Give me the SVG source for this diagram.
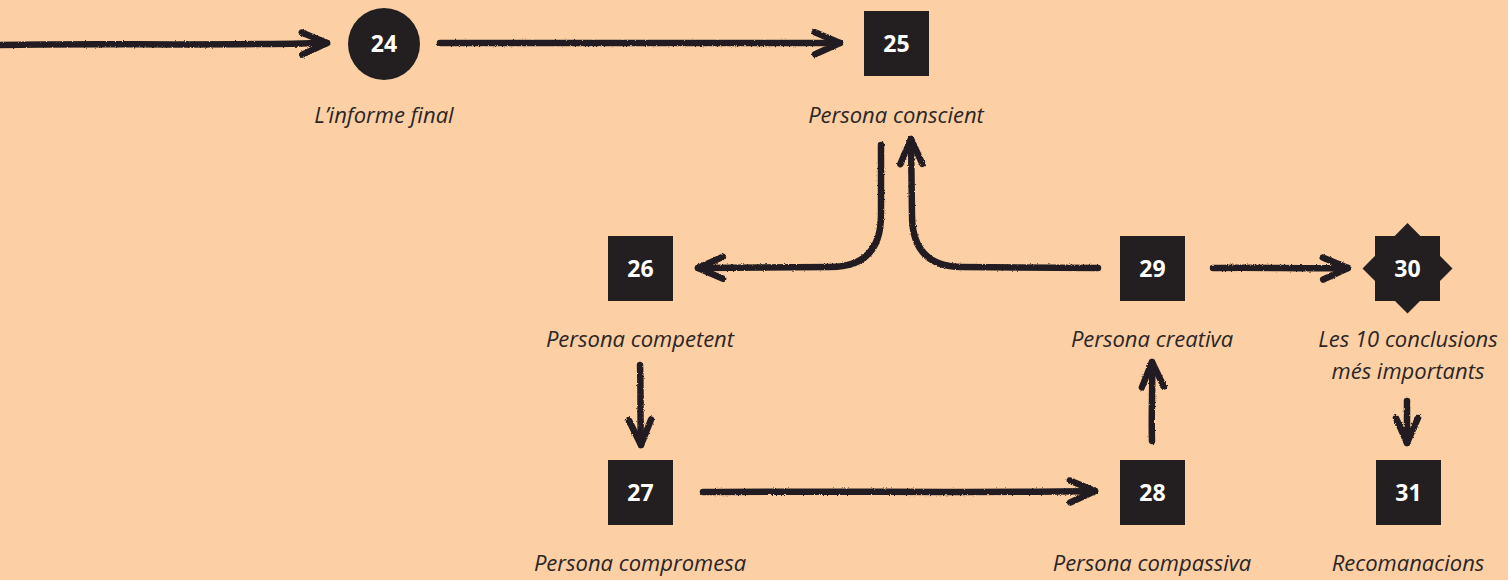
<svg xmlns="http://www.w3.org/2000/svg" width="1508" height="580" viewBox="0 0 1508 580">
<defs>
<style>
.node{fill:#231f20}
.num{fill:#ffffff;font-family:"Open Sans","Liberation Sans",sans-serif;font-weight:700;font-size:23px;text-anchor:middle}
.lbl{fill:#2a2627;font-family:"Open Sans","Liberation Sans",sans-serif;font-style:italic;font-size:22px;text-anchor:middle}
.con{fill:none;stroke:#231f20;stroke-width:6.5;stroke-linecap:round;stroke-linejoin:round}
</style>
<marker id="ah" viewBox="-30 -15 34 30" refX="0" refY="0" markerWidth="34" markerHeight="30" markerUnits="userSpaceOnUse" orient="auto">
<path d="M-25,-11 L0,0 L-25,11" fill="none" stroke="#231f20" stroke-width="6.5" stroke-linecap="round" stroke-linejoin="round"/>
</marker>
<filter id="chalk" x="-5%" y="-20%" width="110%" height="140%">
<feTurbulence type="fractalNoise" baseFrequency="0.9" numOctaves="2" seed="3" result="n"/>
<feDisplacementMap in="SourceGraphic" in2="n" scale="2.5" xChannelSelector="R" yChannelSelector="G"/>
</filter>
</defs>
<rect width="1508" height="580" fill="#fdcfa4"/>
<g id="connectors" filter="url(#chalk)">
<path class="con" d="M0,45 C100,43 200,46 327,43" marker-end="url(#ah)"/>
<path class="con" d="M440,43 C560,42 700,44 840,43" marker-end="url(#ah)"/>
<path class="con" d="M881,145 L881,215 Q881,267 830,267 L698,268" marker-end="url(#ah)"/>
<path class="con" d="M1098,268 L962,267 Q912,267 912,215 L911,139" marker-end="url(#ah)"/>
<path class="con" d="M1213,268 C1260,267 1300,269 1348,268" marker-end="url(#ah)"/>
<path class="con" d="M640,365 C641,390 640,420 641,445" marker-end="url(#ah)"/>
<path class="con" d="M703,492 C850,491 980,493 1095,491" marker-end="url(#ah)"/>
<path class="con" d="M1152,441 C1151,410 1153,390 1152,362" marker-end="url(#ah)"/>
<path class="con" d="M1407,401 L1407,443" marker-end="url(#ah)"/>
</g>
<g id="n24"><circle class="node" cx="384" cy="44" r="36"/><text class="num" x="384" y="52">24</text><text class="lbl" x="384" y="123">L’informe final</text></g>
<g id="n25"><rect class="node" x="864" y="11" width="65" height="65"/><text class="num" x="896.5" y="52">25</text><text class="lbl" x="896" y="123">Persona conscient</text></g>
<g id="n26"><rect class="node" x="608" y="236" width="65" height="65"/><text class="num" x="640.5" y="277">26</text><text class="lbl" x="640" y="347">Persona competent</text></g>
<g id="n27"><rect class="node" x="608" y="460" width="65" height="65"/><text class="num" x="640.5" y="501">27</text><text class="lbl" x="640" y="571">Persona compromesa</text></g>
<g id="n28"><rect class="node" x="1120" y="460" width="65" height="65"/><text class="num" x="1152.5" y="501">28</text><text class="lbl" x="1152" y="571">Persona compassiva</text></g>
<g id="n29"><rect class="node" x="1120" y="236" width="65" height="65"/><text class="num" x="1152.5" y="277">29</text><text class="lbl" x="1152" y="347">Persona creativa</text></g>
<g id="n30"><rect class="node" x="1375" y="236" width="65" height="65"/><polygon class="node" points="1407.5,223 1452.5,268.5 1407.5,313.5 1362.5,268.5"/><text class="num" x="1407.5" y="277">30</text><text class="lbl" x="1408" y="347">Les 10 conclusions</text><text class="lbl" x="1408" y="379">més importants</text></g>
<g id="n31"><rect class="node" x="1376" y="460" width="65" height="65"/><text class="num" x="1408.5" y="501">31</text><text class="lbl" x="1408" y="571">Recomanacions</text></g>
</svg>
